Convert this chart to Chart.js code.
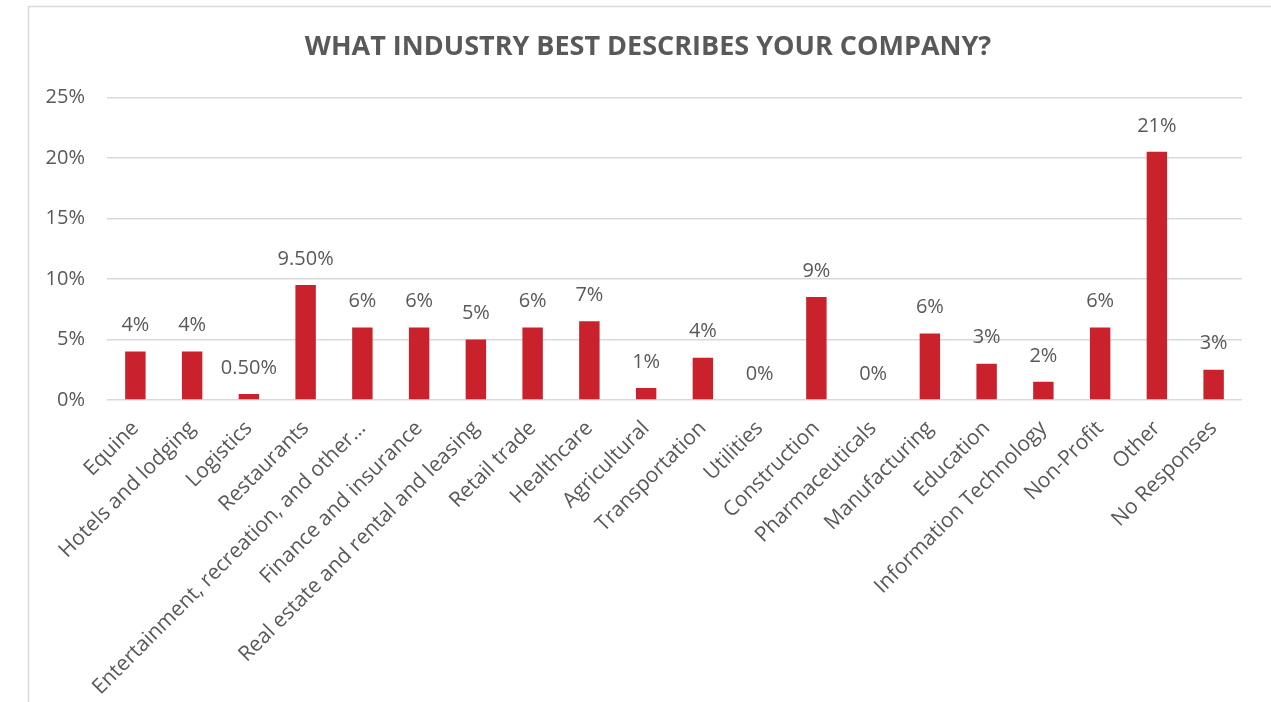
<!DOCTYPE html>
<html>
<head>
<meta charset="utf-8">
<script src="https://cdn.jsdelivr.net/npm/chart.js@4"></script>
<style>
  html, body { margin: 0; padding: 0; background: #fff; }
  #wrap { width: 1271px; height: 702px; }
</style>
</head>
<body>
<div id="wrap"><canvas id="industryChart" width="1271" height="702"></canvas></div>
<script>
const categories = [
  'Equine', 'Hotels and lodging', 'Logistics', 'Restaurants',
  'Entertainment, recreation, and other…', 'Finance and insurance',
  'Real estate and rental and leasing', 'Retail trade', 'Healthcare',
  'Agricultural', 'Transportation', 'Utilities', 'Construction',
  'Pharmaceuticals', 'Manufacturing', 'Education', 'Information Technology',
  'Non-Profit', 'Other', 'No Responses'
];
const shares = [4, 4, 0.5, 9.5, 6, 6, 5, 6, 6.5, 1, 3.5, 0, 8.5, 0, 5.5, 3, 1.5, 6, 20.5, 2.5];
const shareLabels = ['4%', '4%', '0.50%', '9.50%', '6%', '6%', '5%', '6%', '7%', '1%',
  '4%', '0%', '9%', '0%', '6%', '3%', '2%', '6%', '21%', '3%'];
const yTicks = [0, 5, 10, 15, 20, 25];

const grey = '#595959';
const font = '"Open Sans", sans-serif';

// light frame round the chart, like the spreadsheet chart box
const framePlugin = {
  id: 'frame',
  beforeDraw(chart) {
    const { ctx } = chart;
    ctx.save();
    ctx.strokeStyle = '#d9d9d9';
    ctx.lineWidth = 1.5;
    ctx.beginPath();
    ctx.moveTo(28.5, chart.height);
    ctx.lineTo(28.5, 6.5);
    ctx.lineTo(chart.width, 6.5);
    ctx.stroke();
    ctx.restore();
  }
};

// value labels above each bar
const barLabels = {
  id: 'barLabels',
  afterDatasetsDraw(chart) {
    const { ctx } = chart;
    const meta = chart.getDatasetMeta(0);
    ctx.save();
    ctx.fillStyle = grey;
    ctx.font = `20px ${font}`;
    ctx.textAlign = 'center';
    ctx.textBaseline = 'middle';
    meta.data.forEach((bar, i) => {
      ctx.fillText(shareLabels[i], bar.x, bar.y - 26);
    });
    ctx.restore();
  }
};

new Chart(document.getElementById('industryChart'), {
  type: 'bar',
  data: {
    labels: categories,
    datasets: [{
      data: shares,
      backgroundColor: '#C9222D',
      categoryPercentage: 1,
      barPercentage: 0.36,
    }],
  },
  options: {
    responsive: false,
    animation: false,
    layout: { padding: { left: 28, right: 3, top: 6, bottom: 0 } },
    plugins: {
      legend: { display: false },
      tooltip: { enabled: false },
      title: {
        display: true,
        text: 'WHAT INDUSTRY BEST DESCRIBES YOUR COMPANY?',
        color: grey,
        font: { family: font, size: 27, weight: 'bold' },
        padding: { top: 25, bottom: 34 },
      },
    },
    scales: {
      y: {
        min: 0,
        max: 25,
        afterBuildTicks: axis => { axis.ticks = yTicks.map(v => ({ value: v })); },
        afterFit: axis => { axis.width = 79; },
        ticks: {
          color: grey,
          font: { family: font, size: 20 },
          padding: 22,
          callback: v => v + '%',
        },
        grid: { color: '#d9d9d9', lineWidth: 1.5, drawTicks: false },
        border: { display: false },
      },
      // empty right-hand spacer so the plot stops short of the frame edge
      spacer: {
        type: 'linear',
        position: 'right',
        display: true,
        afterFit: axis => { axis.width = 26; },
        ticks: { display: false },
        grid: { display: false },
        border: { display: false },
      },
      x: {
        afterFit: axis => { axis.height = 302; },
        ticks: {
          color: grey,
          font: { family: font, size: 21 },
          minRotation: 45,
          maxRotation: 45,
          autoSkip: false,
          padding: 8,
        },
        grid: { display: false },
        border: { display: false },
      },
    },
  },
  plugins: [framePlugin, barLabels],
});
</script>
</body>
</html>
